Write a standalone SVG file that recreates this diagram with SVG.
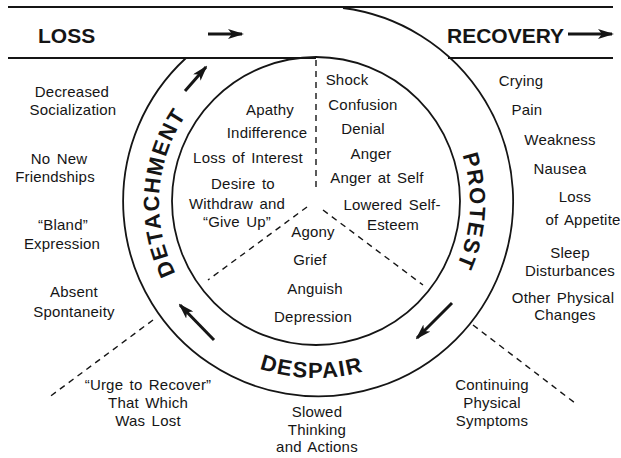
<svg xmlns="http://www.w3.org/2000/svg" width="621" height="458" viewBox="0 0 621 458">
<style>
.t{font-family:"Liberation Sans",Arial,sans-serif;font-size:15px;fill:#151515;text-anchor:middle;letter-spacing:0.2px;word-spacing:2px}
.h{font-family:"Liberation Sans",Arial,sans-serif;font-size:21px;font-weight:bold;fill:#151515}
.r{font-family:"Liberation Sans",Arial,sans-serif;font-size:22px;font-weight:bold;fill:#151515;letter-spacing:1.5px}
.ln{stroke:#151515;stroke-width:2;fill:none}
.c{stroke:#151515;stroke-width:1.8;fill:none}
.d{stroke:#151515;stroke-width:1.4;fill:none;stroke-dasharray:6 5}
.ar{stroke:#151515;stroke-width:3;fill:none;marker-end:url(#ah)}
</style>
<defs>
<marker id="ah" markerWidth="16" markerHeight="10" refX="14" refY="5" orient="auto" markerUnits="userSpaceOnUse"><path d="M0,0 L16,5 L0,10 L4,5 Z" fill="#151515"/></marker>
<path id="detPath" d="M 316 360 A 157 157 0 0 1 316 46"/>
<path id="proPath" d="M 316 49 A 154 154 0 0 1 316 357"/>
<path id="desPath" d="M 141 203 A 175 175 0 0 0 491 203"/>
</defs>
<rect width="621" height="458" fill="#fff"/>

<g id="frame">
<line class="ln" x1="8" y1="7" x2="613" y2="7"/>
<line class="ln" x1="8" y1="58" x2="316" y2="58"/>
<line class="ln" x1="448" y1="58" x2="613" y2="58"/>
<path class="c" d="M 186 58 A 195 195 0 1 0 343 8"/>
<circle class="c" cx="316" cy="201" r="144"/>
<line class="d" x1="316" y1="60" x2="316" y2="190"/>
<line class="d" x1="307" y1="207" x2="208" y2="280"/>
<line class="d" x1="323" y1="210" x2="423" y2="285"/>
<line class="d" x1="153" y1="320" x2="48" y2="398"/>
<line class="d" x1="473" y1="325" x2="575" y2="403"/>
</g>

<g id="connectors">
<line class="ar" x1="208" y1="34" x2="242" y2="34"/>
<line class="ar" x1="568" y1="34" x2="612" y2="34"/>
<line class="ar" x1="185" y1="91" x2="206" y2="67"/>
<line class="ar" x1="214" y1="340" x2="180" y2="305"/>
<line class="ar" x1="452" y1="303" x2="417" y2="338"/>
</g>

<g id="loss"><text class="h" x="38" y="43">LOSS</text></g>
<g id="recovery"><text class="h" x="447" y="43">RECOVERY</text></g>

<g id="detachment"><text class="r"><textPath href="#detPath" startOffset="52.2%" text-anchor="middle">DETACHMENT</textPath></text></g>
<g id="protest"><text class="r"><textPath href="#proPath" startOffset="51.7%" text-anchor="middle">PROTEST</textPath></text></g>
<g id="despair"><text class="r"><textPath href="#desPath" startOffset="49.2%" text-anchor="middle">DESPAIR</textPath></text></g>

<g id="detachment-signs">
<text class="t" x="72" y="97">Decreased</text>
<text class="t" x="73" y="115">Socialization</text>
<text class="t" x="59" y="164">No New</text>
<text class="t" x="55" y="182">Friendships</text>
<text class="t" x="63" y="230">“Bland”</text>
<text class="t" x="62" y="249">Expression</text>
<text class="t" x="74" y="297">Absent</text>
<text class="t" x="74" y="317">Spontaneity</text>
</g>

<g id="protest-signs">
<text class="t" x="521" y="86">Crying</text>
<text class="t" x="527" y="115">Pain</text>
<text class="t" x="560" y="145">Weakness</text>
<text class="t" x="560" y="174">Nausea</text>
<text class="t" x="575" y="202">Loss</text>
<text class="t" x="583" y="225">of Appetite</text>
<text class="t" x="570" y="258">Sleep</text>
<text class="t" x="570" y="276">Disturbances</text>
<text class="t" x="563" y="303">Other Physical</text>
<text class="t" x="565" y="320">Changes</text>
</g>

<g id="detachment-feelings">
<text class="t" x="270" y="115">Apathy</text>
<text class="t" x="267" y="138">Indifference</text>
<text class="t" x="248" y="163">Loss of Interest</text>
<text class="t" x="243" y="189">Desire to</text>
<text class="t" x="237" y="209">Withdraw and</text>
<text class="t" x="237" y="227">“Give Up”</text>
</g>

<g id="protest-feelings">
<text class="t" x="347" y="85">Shock</text>
<text class="t" x="363" y="110">Confusion</text>
<text class="t" x="363" y="134">Denial</text>
<text class="t" x="371" y="159">Anger</text>
<text class="t" x="377" y="183">Anger at Self</text>
<text class="t" x="392" y="210">Lowered Self-</text>
<text class="t" x="393" y="230">Esteem</text>
</g>

<g id="despair-feelings">
<text class="t" x="313" y="237">Agony</text>
<text class="t" x="310" y="265">Grief</text>
<text class="t" x="315" y="294">Anguish</text>
<text class="t" x="313" y="322">Depression</text>
</g>

<g id="urge">
<text class="t" x="148" y="390">“Urge to Recover”</text>
<text class="t" x="148" y="408">That Which</text>
<text class="t" x="148" y="426">Was Lost</text>
</g>

<g id="slowed">
<text class="t" x="317" y="417">Slowed</text>
<text class="t" x="317" y="435">Thinking</text>
<text class="t" x="317" y="452">and Actions</text>
</g>

<g id="continuing">
<text class="t" x="492" y="390">Continuing</text>
<text class="t" x="492" y="408">Physical</text>
<text class="t" x="492" y="426">Symptoms</text>
</g>
</svg>
